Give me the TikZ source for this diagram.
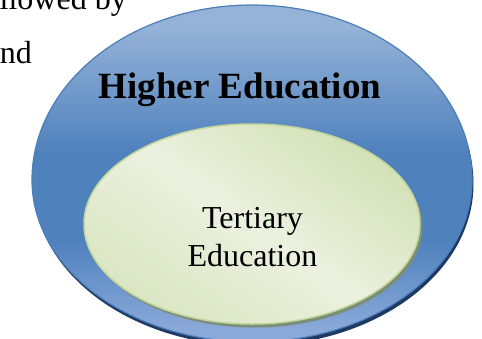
\documentclass[tikz,border=0pt]{standalone}
\usepackage[dvipsnames]{xcolor}
\usepackage{fontspec}
\setmainfont{Liberation Serif}
\usepackage{tikz}
\usetikzlibrary{shapes.geometric}

\definecolor{outerTop}{HTML}{95B3D7}
\definecolor{outerMid}{HTML}{4F81BD}
\definecolor{outerBot}{HTML}{8AA9D9}
\definecolor{outerLine}{HTML}{4A7EBB}
\definecolor{outerEdge}{HTML}{1F3A62}
\definecolor{innerLight}{HTML}{EBF1DF}
\definecolor{innerDark}{HTML}{D3E1B6}
\definecolor{innerLine}{HTML}{C3D69B}
\definecolor{innerShadow}{HTML}{7A8E78}

\pgfdeclareverticalshading{outerShade}{100bp}{color(0bp)=(outerBot); color(27bp)=(outerBot);
  color(40bp)=(outerMid); color(53bp)=(outerMid); color(72bp)=(outerTop); color(100bp)=(outerTop)}

\begin{document}
\begin{tikzpicture}[x=1pt,y=-1pt]
               \tikzstyle{myEll}=[ellipse, minimum width=336pt, minimum height=200pt, inner sep=0pt]
               \tikzstyle{myTxt}=[inner sep=0pt, text=black]

               \useasboundingbox (0,0) rectangle (482,338);
               \clip (0,0) rectangle (482,338);

               % running text of the page, cut by the frame
               \node[myTxt, anchor=base east, font=\fontsize{32}{38}\selectfont] (followed) at (127,9) {followed by};
               \node[myTxt, anchor=base east, font=\fontsize{32}{38}\selectfont] (andword) at (32,63) {and};

               % outer target
               \fill[outerEdge] (33.5,184) arc[start angle=180, end angle=0, x radius=220pt, y radius=175pt]
                        arc[start angle=0, end angle=-180, x radius=220pt, y radius=162pt] -- cycle;
               \shadedraw[shading=outerShade, draw=outerLine, line width=1.2pt]
                        (32,180) arc[start angle=180, end angle=0, x radius=220pt, y radius=175pt]
                        arc[start angle=0, end angle=-180, x radius=220pt, y radius=162pt] -- cycle;

               % inner target
               \node[myEll, fill=innerShadow] (tertShadow) at (254.5,227.5) {};
               \node[myEll, draw=innerLine, line width=1.5pt, top color=innerDark, bottom color=innerDark!70!innerLight,
                        middle color=innerLight, shading angle=-35] (tertEll) at (252,224) {};

               \node[myTxt, anchor=base, font=\fontsize{37}{44}\selectfont\bfseries] (higher) at (240,98) {Higher Education};
               \node[myTxt, align=center, font=\fontsize{32}{38}\selectfont] (tertiary) at (252.5,237) {Tertiary\\Education};
\end{tikzpicture}
\end{document}
